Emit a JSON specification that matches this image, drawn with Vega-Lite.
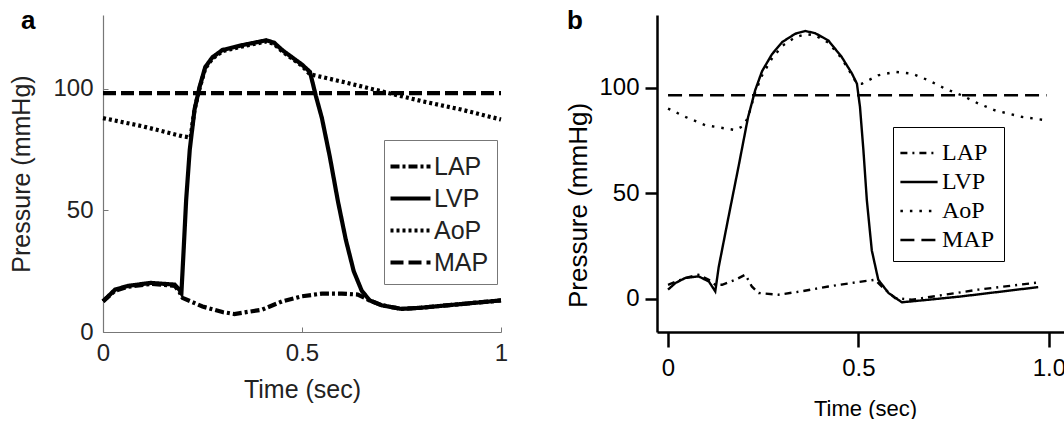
{
  "$schema": "https://vega.github.io/schema/vega-lite/v6.json",
  "background": "white",
  "padding": {"left": 9, "top": 8, "right": 0, "bottom": 0},
  "spacing": 55,
  "config": {"view": {"stroke": null}, "axis": {"grid": false}},
  "datasets": {
    "a": [
      {"s": "LVP", "t": 0, "p": 12.6}, {"s": "LVP", "t": 0.03, "p": 17.4}, {"s": "LVP", "t": 0.063, "p": 19}, {"s": "LVP", "t": 0.12, "p": 20.2}, {"s": "LVP", "t": 0.18, "p": 19.5}, {"s": "LVP", "t": 0.192, "p": 17.4}, {"s": "LVP", "t": 0.197, "p": 16}, {"s": "LVP", "t": 0.203, "p": 35}, {"s": "LVP", "t": 0.209, "p": 54.5}, {"s": "LVP", "t": 0.218, "p": 75}, {"s": "LVP", "t": 0.23, "p": 91.5}, {"s": "LVP", "t": 0.243, "p": 101}, {"s": "LVP", "t": 0.257, "p": 109}, {"s": "LVP", "t": 0.275, "p": 113}, {"s": "LVP", "t": 0.3, "p": 116}, {"s": "LVP", "t": 0.35, "p": 118}, {"s": "LVP", "t": 0.41, "p": 120}, {"s": "LVP", "t": 0.43, "p": 119}, {"s": "LVP", "t": 0.45, "p": 116}, {"s": "LVP", "t": 0.5, "p": 110}, {"s": "LVP", "t": 0.52, "p": 107}, {"s": "LVP", "t": 0.535, "p": 97}, {"s": "LVP", "t": 0.55, "p": 88}, {"s": "LVP", "t": 0.57, "p": 72}, {"s": "LVP", "t": 0.59, "p": 54}, {"s": "LVP", "t": 0.61, "p": 38}, {"s": "LVP", "t": 0.63, "p": 25}, {"s": "LVP", "t": 0.65, "p": 17}, {"s": "LVP", "t": 0.67, "p": 13}, {"s": "LVP", "t": 0.7, "p": 11}, {"s": "LVP", "t": 0.75, "p": 9.5}, {"s": "LVP", "t": 0.8, "p": 10}, {"s": "LVP", "t": 0.9, "p": 11.5}, {"s": "LVP", "t": 1, "p": 13},
      {"s": "LAP", "t": 0, "p": 12.6}, {"s": "LAP", "t": 0.03, "p": 17}, {"s": "LAP", "t": 0.063, "p": 18.6}, {"s": "LAP", "t": 0.12, "p": 19.8}, {"s": "LAP", "t": 0.18, "p": 19}, {"s": "LAP", "t": 0.192, "p": 16.5}, {"s": "LAP", "t": 0.2, "p": 14}, {"s": "LAP", "t": 0.25, "p": 10.5}, {"s": "LAP", "t": 0.3, "p": 8.2}, {"s": "LAP", "t": 0.33, "p": 7.4}, {"s": "LAP", "t": 0.4, "p": 9.2}, {"s": "LAP", "t": 0.45, "p": 12.6}, {"s": "LAP", "t": 0.5, "p": 14.7}, {"s": "LAP", "t": 0.55, "p": 15.8}, {"s": "LAP", "t": 0.6, "p": 15.8}, {"s": "LAP", "t": 0.64, "p": 15.4}, {"s": "LAP", "t": 0.67, "p": 13}, {"s": "LAP", "t": 0.7, "p": 11}, {"s": "LAP", "t": 0.75, "p": 9.5}, {"s": "LAP", "t": 0.8, "p": 10}, {"s": "LAP", "t": 0.9, "p": 11.5}, {"s": "LAP", "t": 1, "p": 13},
      {"s": "AoP", "t": 0, "p": 88}, {"s": "AoP", "t": 0.1, "p": 84.6}, {"s": "AoP", "t": 0.2, "p": 80.5}, {"s": "AoP", "t": 0.22, "p": 80}, {"s": "AoP", "t": 0.23, "p": 91.5}, {"s": "AoP", "t": 0.243, "p": 100.5}, {"s": "AoP", "t": 0.257, "p": 108.5}, {"s": "AoP", "t": 0.275, "p": 112.5}, {"s": "AoP", "t": 0.3, "p": 115.5}, {"s": "AoP", "t": 0.35, "p": 117.5}, {"s": "AoP", "t": 0.41, "p": 119.5}, {"s": "AoP", "t": 0.43, "p": 118.5}, {"s": "AoP", "t": 0.45, "p": 115.5}, {"s": "AoP", "t": 0.5, "p": 109.5}, {"s": "AoP", "t": 0.52, "p": 106}, {"s": "AoP", "t": 0.6, "p": 103}, {"s": "AoP", "t": 0.7, "p": 99}, {"s": "AoP", "t": 0.8, "p": 95}, {"s": "AoP", "t": 0.9, "p": 91.5}, {"s": "AoP", "t": 1, "p": 87.4},
      {"s": "MAP", "t": 0, "p": 98.3}, {"s": "MAP", "t": 1, "p": 98.3}
    ],
    "b": [
      {"s": "LVP", "t": 0, "p": 4.3}, {"s": "LVP", "t": 0.019, "p": 7.4}, {"s": "LVP", "t": 0.045, "p": 9.8}, {"s": "LVP", "t": 0.08, "p": 10.6}, {"s": "LVP", "t": 0.107, "p": 8.2}, {"s": "LVP", "t": 0.124, "p": 3.5}, {"s": "LVP", "t": 0.133, "p": 15}, {"s": "LVP", "t": 0.159, "p": 39}, {"s": "LVP", "t": 0.185, "p": 62.6}, {"s": "LVP", "t": 0.21, "p": 86}, {"s": "LVP", "t": 0.229, "p": 99}, {"s": "LVP", "t": 0.247, "p": 108}, {"s": "LVP", "t": 0.273, "p": 116}, {"s": "LVP", "t": 0.3, "p": 121.8}, {"s": "LVP", "t": 0.334, "p": 125.7}, {"s": "LVP", "t": 0.36, "p": 127}, {"s": "LVP", "t": 0.386, "p": 126}, {"s": "LVP", "t": 0.421, "p": 122.5}, {"s": "LVP", "t": 0.456, "p": 114.7}, {"s": "LVP", "t": 0.483, "p": 106.8}, {"s": "LVP", "t": 0.496, "p": 102}, {"s": "LVP", "t": 0.504, "p": 91}, {"s": "LVP", "t": 0.513, "p": 70.5}, {"s": "LVP", "t": 0.522, "p": 46.8}, {"s": "LVP", "t": 0.535, "p": 23}, {"s": "LVP", "t": 0.552, "p": 9}, {"s": "LVP", "t": 0.579, "p": 2.7}, {"s": "LVP", "t": 0.614, "p": -1.7}, {"s": "LVP", "t": 0.684, "p": -0.5}, {"s": "LVP", "t": 0.771, "p": 1.1}, {"s": "LVP", "t": 0.858, "p": 3}, {"s": "LVP", "t": 0.972, "p": 5.5},
      {"s": "LAP", "t": 0, "p": 6.6}, {"s": "LAP", "t": 0.045, "p": 9.8}, {"s": "LAP", "t": 0.08, "p": 11.4}, {"s": "LAP", "t": 0.107, "p": 9}, {"s": "LAP", "t": 0.124, "p": 6.6}, {"s": "LAP", "t": 0.142, "p": 6.6}, {"s": "LAP", "t": 0.177, "p": 9}, {"s": "LAP", "t": 0.203, "p": 11.4}, {"s": "LAP", "t": 0.22, "p": 5.8}, {"s": "LAP", "t": 0.238, "p": 2.7}, {"s": "LAP", "t": 0.29, "p": 1.9}, {"s": "LAP", "t": 0.351, "p": 3.5}, {"s": "LAP", "t": 0.421, "p": 5.8}, {"s": "LAP", "t": 0.491, "p": 7.7}, {"s": "LAP", "t": 0.544, "p": 9}, {"s": "LAP", "t": 0.561, "p": 5.8}, {"s": "LAP", "t": 0.596, "p": 0.3}, {"s": "LAP", "t": 0.64, "p": -0.5}, {"s": "LAP", "t": 0.727, "p": 1.9}, {"s": "LAP", "t": 0.815, "p": 4.3}, {"s": "LAP", "t": 0.972, "p": 7.7},
      {"s": "AoP", "t": 0, "p": 90.2}, {"s": "AoP", "t": 0.045, "p": 86.3}, {"s": "AoP", "t": 0.098, "p": 82.3}, {"s": "AoP", "t": 0.177, "p": 80}, {"s": "AoP", "t": 0.198, "p": 82}, {"s": "AoP", "t": 0.21, "p": 86}, {"s": "AoP", "t": 0.229, "p": 98}, {"s": "AoP", "t": 0.247, "p": 106}, {"s": "AoP", "t": 0.273, "p": 114}, {"s": "AoP", "t": 0.3, "p": 120}, {"s": "AoP", "t": 0.334, "p": 124}, {"s": "AoP", "t": 0.36, "p": 125.5}, {"s": "AoP", "t": 0.386, "p": 125}, {"s": "AoP", "t": 0.421, "p": 121.5}, {"s": "AoP", "t": 0.456, "p": 114}, {"s": "AoP", "t": 0.483, "p": 106}, {"s": "AoP", "t": 0.496, "p": 102}, {"s": "AoP", "t": 0.509, "p": 102}, {"s": "AoP", "t": 0.552, "p": 106}, {"s": "AoP", "t": 0.596, "p": 107.6}, {"s": "AoP", "t": 0.64, "p": 106.8}, {"s": "AoP", "t": 0.684, "p": 103.6}, {"s": "AoP", "t": 0.727, "p": 99.7}, {"s": "AoP", "t": 0.771, "p": 96.5}, {"s": "AoP", "t": 0.815, "p": 92.6}, {"s": "AoP", "t": 0.858, "p": 89.4}, {"s": "AoP", "t": 0.928, "p": 86.3}, {"s": "AoP", "t": 0.99, "p": 84.7},
      {"s": "MAP", "t": 0, "p": 96.5}, {"s": "MAP", "t": 0.994, "p": 96.5}
    ]
  },
  "resolve": {"scale": {"strokeDash": "independent", "x": "independent", "y": "independent"}, "legend": {"strokeDash": "independent"}},
  "hconcat": [
    {
      "width": 398,
      "height": 317,
      "data": {"name": "a"},
      "title": {"text": "a", "anchor": "start", "frame": "group", "font": "Liberation Sans", "fontSize": 26, "fontWeight": "bold", "color": "black", "dx": -82, "offset": -19},
      "mark": {"type": "line", "color": "black", "strokeWidth": 4.2, "strokeCap": "butt"},
      "encoding": {
        "x": {"field": "t", "type": "quantitative", "title": "Time (sec)", "scale": {"domain": [0, 1], "nice": false, "zero": false},
          "axis": {"values": [0, 0.5, 1], "labelExpr": "datum.value == 0 ? '0' : datum.value == 1 ? '1' : format(datum.value, '.1f')", "labelFont": "Liberation Sans", "labelFontSize": 24, "labelColor": "#222", "labelPadding": 14, "tickSize": -5, "tickColor": "#777", "domainColor": "#777", "domainWidth": 1.2, "titleFont": "Liberation Sans", "titleFontSize": 25, "titleFontWeight": "normal", "titleColor": "#222", "titlePadding": 12, "labelFlush": false}},
        "y": {"field": "p", "type": "quantitative", "title": "Pressure (mmHg)", "scale": {"domain": [0, 130.4], "nice": false},
          "axis": {"values": [0, 50, 100], "labelFont": "Liberation Sans", "labelFontSize": 24, "labelColor": "#222", "labelPadding": 15, "tickSize": -5, "tickColor": "#777", "domainColor": "#777", "domainWidth": 1.2, "titleFont": "Liberation Sans", "titleFontSize": 25, "titleFontWeight": "normal", "titleColor": "#222", "titlePadding": 18, "labelFlush": false}},
        "strokeDash": {"field": "s", "type": "nominal", "scale": {"domain": ["LAP", "LVP", "AoP", "MAP"], "range": [[9, 3, 3, 3], [1, 0], [3, 3], [13, 5]]},
          "legend": {"title": null, "orient": "none", "legendX": 281, "legendY": 125, "strokeColor": "#777", "fillColor": "white", "padding": 8, "symbolType": "M-1.25,0H1.25", "symbolSize": 1024, "symbolStrokeWidth": 4.2, "symbolStrokeColor": "black", "labelFont": "Liberation Sans", "labelFontSize": 25, "labelColor": "#222", "rowPadding": 0, "labelOffset": 5}}
      }
    },
    {
      "width": 409,
      "height": 317,
      "data": {"name": "b"},
      "title": {"text": "b", "anchor": "start", "frame": "group", "font": "Liberation Sans", "fontSize": 26, "fontWeight": "bold", "color": "black", "dx": -90, "offset": -19},
      "mark": {"type": "line", "color": "black", "strokeWidth": 2.4, "strokeCap": "butt"},
      "encoding": {
        "x": {"field": "t", "type": "quantitative", "title": "Time (sec)", "scale": {"domain": [-0.029, 1.045], "nice": false, "zero": false},
          "axis": {"values": [0, 0.5, 1], "labelExpr": "datum.value == 0 ? '0' : format(datum.value, '.1f')", "labelFont": "Liberation Sans", "labelFontSize": 24, "labelColor": "black", "labelPadding": 9, "tickSize": 15, "tickWidth": 2.5, "tickColor": "black", "domainColor": "black", "domainWidth": 2.5, "titleFont": "Liberation Sans", "titleFontSize": 22, "titleFontWeight": "normal", "titleColor": "black", "titlePadding": 18, "titleX": 208, "labelFlush": false}},
        "y": {"field": "p", "type": "quantitative", "title": "Pressure (mmHg)", "scale": {"domain": [-15.8, 134.6], "nice": false, "zero": false},
          "axis": {"values": [0, 50, 100], "labelFont": "Liberation Sans", "labelFontSize": 24, "labelColor": "black", "labelPadding": 6, "tickSize": 12, "tickWidth": 2.5, "tickColor": "black", "domainColor": "black", "domainWidth": 2.5, "titleFont": "Liberation Sans", "titleFontSize": 26, "titleFontWeight": "normal", "titleColor": "black", "titlePadding": 7, "titleY": 190, "labelFlush": false}},
        "strokeDash": {"field": "s", "type": "nominal", "scale": {"domain": ["LAP", "LVP", "AoP", "MAP"], "range": [[7, 5, 2, 5], [1, 0], [2.5, 7], [14, 7]]},
          "legend": {"title": null, "orient": "none", "legendX": 236, "legendY": 112, "strokeColor": "black", "fillColor": "white", "padding": 9, "symbolType": "M-1.2,0H1.2", "symbolSize": 961, "symbolStrokeWidth": 2.4, "symbolStrokeColor": "black", "labelFont": "Liberation Serif", "labelFontSize": 24, "labelColor": "black", "rowPadding": 0, "labelOffset": 6}}
      }
    }
  ]
}
